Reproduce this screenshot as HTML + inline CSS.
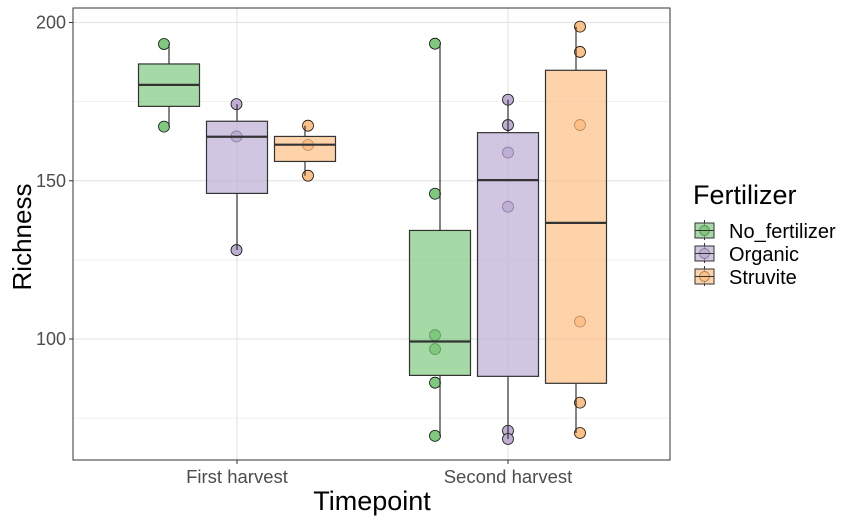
<!DOCTYPE html>
<html><head><meta charset="utf-8"><style>
body{margin:0;background:#fff;}
svg{display:block;font-family:"Liberation Sans",Arial,sans-serif;}
</style></head><body>
<svg id="chart" width="855" height="520" viewBox="0 0 855 520" xmlns="http://www.w3.org/2000/svg"></svg>
<script>
const timepoints = ["First harvest", "Second harvest"];
const fertilizers = ["No_fertilizer", "Organic", "Struvite"];
const colors = ["#7fc97f", "#beaed4", "#fdc086"];
// box stats per [timepoint][fertilizer]: min, q1, median, q3, max
const boxMin = [[167.1, 128.1, 151.6], [69.4, 68.4, 70.3]];
const boxQ1 = [[173.5, 146.0, 156.1], [88.5, 88.2, 86.0]];
const boxMed = [[180.3, 163.9, 161.4], [99.2, 150.2, 136.7]];
const boxQ3 = [[186.9, 168.8, 164.0], [134.3, 165.2, 184.9]];
const boxMax = [[193.2, 174.2, 167.4], [193.3, 175.6, 198.7]];
const points = [
  [[193.2, 167.1], [174.2, 164.0, 128.1], [167.4, 161.3, 151.6]],
  [[193.3, 145.9, 101.2, 96.8, 86.2, 69.4], [175.6, 167.6, 158.9, 141.8, 71.0, 68.4], [198.7, 190.7, 167.6, 105.5, 79.9, 70.3]]
];
const yTicks = [100, 150, 200];
const yMinor = [75, 125, 175];

const NS = "http://www.w3.org/2000/svg";
const svg = document.getElementById("chart");
const P = {l: 73, r: 670, t: 8, b: 460};
function y(v){ return 22.5 + (200 - v) * 3.165; }
function xCat(i){ return 237 + i * 271; }
const dodge = 68, bw = 61;
function xBox(i, j){ return xCat(i) + (j - 1) * dodge; }
function el(tag, attrs, parent){
  const e = document.createElementNS(NS, tag);
  for (const k in attrs) e.setAttribute(k, attrs[k]);
  (parent || svg).appendChild(e);
  return e;
}
el("rect", {x: P.l, y: P.t, width: P.r - P.l, height: P.b - P.t, fill: "#fff"});
yMinor.forEach(v => el("line", {x1: P.l, x2: P.r, y1: y(v), y2: y(v), stroke: "#ebebeb", "stroke-width": 0.8}));
yTicks.forEach(v => el("line", {x1: P.l, x2: P.r, y1: y(v), y2: y(v), stroke: "#e6e6e6", "stroke-width": 1.2}));
timepoints.forEach((t, i) => el("line", {x1: xCat(i), x2: xCat(i), y1: P.t, y2: P.b, stroke: "#e6e6e6", "stroke-width": 1.2}));

const jit = [[-5, -0.5, 3], [-5, 0, 4]];
for (let i = 0; i < 2; i++) for (let j = 0; j < 3; j++) {
  const g = el("g", {});
  
  
  const cx = xBox(i, j);
  points[i][j].forEach(v => {
    const c = el("circle", {cx: cx + jit[i][j], cy: y(v), r: 5.5, fill: colors[j], stroke: "#111", "stroke-width": 0.8}, g);
    
    
  });
  el("line", {x1: cx, x2: cx, y1: y(boxMax[i][j]), y2: y(boxQ3[i][j]), stroke: "#333", "stroke-width": 1.2}, g);
  el("line", {x1: cx, x2: cx, y1: y(boxQ1[i][j]), y2: y(boxMin[i][j]), stroke: "#333", "stroke-width": 1.2}, g);
  el("rect", {x: cx - bw/2, y: y(boxQ3[i][j]), width: bw, height: y(boxQ1[i][j]) - y(boxQ3[i][j]), fill: colors[j], "fill-opacity": 0.7, stroke: "#333", "stroke-width": 1.2}, g);
  el("line", {x1: cx - bw/2, x2: cx + bw/2, y1: y(boxMed[i][j]), y2: y(boxMed[i][j]), stroke: "#333", "stroke-width": 2.2}, g);
}
el("rect", {x: P.l, y: P.t, width: P.r - P.l, height: P.b - P.t, fill: "none", stroke: "#333", "stroke-width": 1});
yTicks.forEach(v => {
  el("line", {x1: P.l - 4, x2: P.l, y1: y(v), y2: y(v), stroke: "#333"});
  const t = el("text", {x: P.l - 7, y: y(v) + 6, "text-anchor": "end", "font-size": 18, fill: "#4d4d4d"});
  t.textContent = v;
  
  
});
timepoints.forEach((tp, i) => {
  el("line", {x1: xCat(i), x2: xCat(i), y1: P.b, y2: P.b + 4, stroke: "#333"});
  const t = el("text", {x: xCat(i), y: 483, "text-anchor": "middle", "font-size": 18.5, fill: "#4d4d4d"});
  t.textContent = tp;
  
  
});
</script>
<svg style="position:absolute;left:0;top:0" width="855" height="520" xmlns="http://www.w3.org/2000/svg" font-family="Liberation Sans, Arial, sans-serif">
  <text x="372" y="510" text-anchor="middle" font-size="27" fill="#000">Timepoint</text>
  <text transform="translate(31,237) rotate(-90)" text-anchor="middle" font-size="26" fill="#000">Richness</text>
  <g>
    <text x="693" y="204" font-size="27" fill="#000">Fertilizer</text>
    <g>
      <line x1="704.5" x2="704.5" y1="220" y2="240" stroke="#333"/>
      <rect x="695" y="223" width="19" height="15" fill="#7fc97f" fill-opacity="0.7" stroke="#333"/>
      <circle cx="704.5" cy="230.5" r="5" fill="#7fc97f" stroke="#333" stroke-opacity="0.4"/>
      <line x1="695" x2="714" y1="230.5" y2="230.5" stroke="#333"/>
      <text x="729" y="238" font-size="20">No_fertilizer</text>
    </g>
    <g>
      <line x1="704.5" x2="704.5" y1="243" y2="263" stroke="#333"/>
      <rect x="695" y="246" width="19" height="15" fill="#beaed4" fill-opacity="0.7" stroke="#333"/>
      <circle cx="704.5" cy="253.5" r="5" fill="#beaed4" stroke="#333" stroke-opacity="0.4"/>
      <line x1="695" x2="714" y1="253.5" y2="253.5" stroke="#333"/>
      <text x="729" y="261" font-size="20">Organic</text>
    </g>
    <g>
      <line x1="704.5" x2="704.5" y1="266" y2="286" stroke="#333"/>
      <rect x="695" y="269" width="19" height="15" fill="#fdc086" fill-opacity="0.7" stroke="#333"/>
      <circle cx="704.5" cy="276.5" r="5" fill="#fdc086" stroke="#333" stroke-opacity="0.4"/>
      <line x1="695" x2="714" y1="276.5" y2="276.5" stroke="#333"/>
      <text x="729" y="284" font-size="20">Struvite</text>
    </g>
  </g>
</svg>
</body></html>
